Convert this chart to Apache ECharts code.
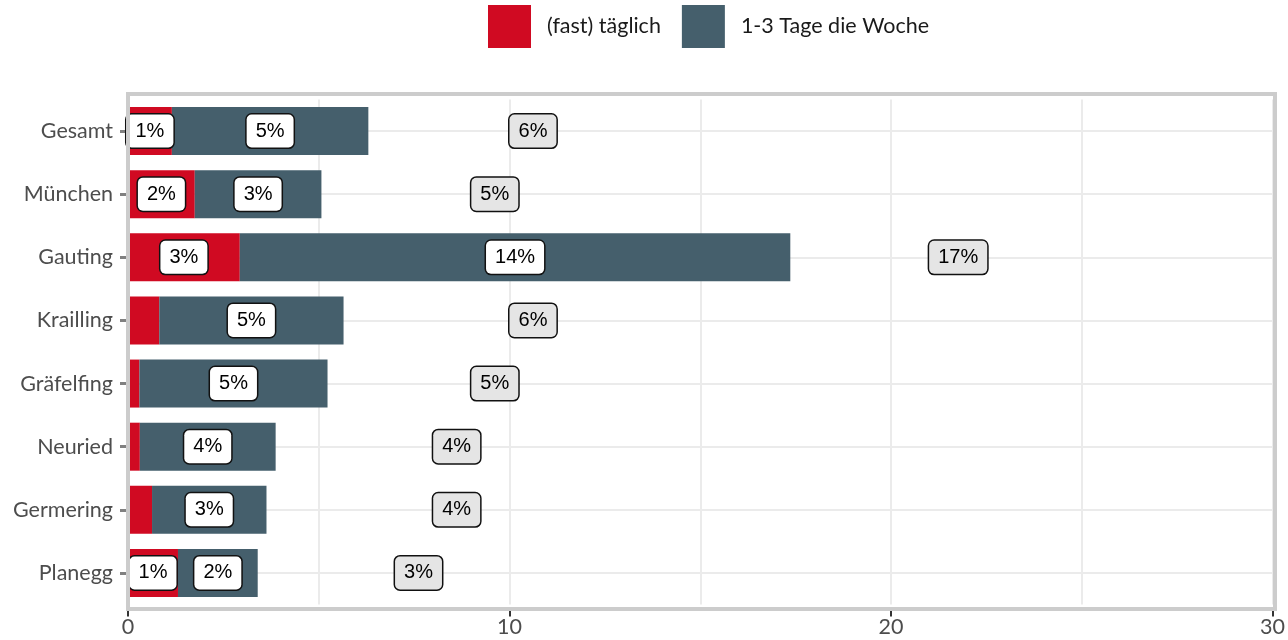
<!DOCTYPE html>
<html><head><meta charset="utf-8">
<script src="https://cdn.jsdelivr.net/npm/echarts@6/dist/echarts.min.js"></script>
<style>html,body{margin:0;padding:0;background:#fff}#c{width:1288px;height:640px}</style>
</head><body><div id="c"></div>
<script>
const categories = ['Gesamt','München','Gauting','Krailling','Gräfelfing','Neuried','Germering','Planegg'];
const seriesNames = ['(fast) täglich','1-3 Tage die Woche'];
const daily  = [1.15, 1.75, 2.93, 0.82, 0.30, 0.31, 0.63, 1.31];
const weekly = [5.15, 3.32, 14.43, 4.83, 4.93, 3.56, 3.00, 2.09];
const xTickValues = [0, 10, 20, 30];
const totalLabelOffset = 4;

const RED = '#d00a22', BLUE = '#455f6c';
const boxLabel = {
  color: '#000', opacity: 1, fontFamily: 'Liberation Sans, Arial, sans-serif', fontSize: 20,
  backgroundColor: '#ffffff', borderColor: '#111', borderWidth: 1.5, borderRadius: 5,
  padding: [7, 9, 6, 9]
};
const totals = daily.map((d, i) => d + weekly[i]);

const chart = echarts.init(document.getElementById('c'), null, {renderer: 'canvas'});
chart.setOption({
  animation: false,
  backgroundColor: '#ffffff',
  legend: {
    top: 0, left: 483, itemWidth: 43, itemHeight: 43, itemGap: 21,
    icon: 'rect',
    textStyle: {fontFamily: 'Lato, sans-serif', fontSize: 21.5, color: '#1a1a1a', padding: [0, 0, 0, 11]},
    data: seriesNames
  },
  grid: {left: 128, right: 13, top: 99.5, bottom: 35.5, containLabel: false},
  xAxis: {
    type: 'value', min: xTickValues[0], max: xTickValues[xTickValues.length - 1],
    interval: xTickValues[1] - xTickValues[0], offset: 4,
    axisLine: {show: false},
    axisTick: {show: true, length: 8, lineStyle: {color: '#333', width: 2}},
    axisLabel: {fontFamily: 'Lato, sans-serif', fontSize: 21.5, color: '#4d4d4d', margin: 8},
    splitLine: {show: true, lineStyle: {color: '#ebebeb', width: 2}},
    minorTick: {show: false, splitNumber: 2},
    minorSplitLine: {show: true, lineStyle: {color: '#ebebeb', width: 2}}
  },
  yAxis: {
    type: 'category', data: categories, inverse: true,
    axisLine: {show: false},
    axisTick: {show: true, alignWithLabel: true, length: 8, lineStyle: {color: '#808080', width: 3}},
    axisLabel: {fontFamily: 'Lato, sans-serif', fontSize: 21.5, color: '#4d4d4d', margin: 15},
    splitLine: {show: true, alignWithLabel: true, lineStyle: {color: '#ebebeb', width: 2}}
  },
  series: [
    {
      name: seriesNames[0], type: 'bar', stack: 'a', barWidth: 48, itemStyle: {color: RED},
      data: daily.map(v => ({value: v, label: {show: v >= 1}})),
      label: Object.assign({position: 'inside', formatter: p => Math.round(p.value) + '%'}, boxLabel)
    },
    {
      name: seriesNames[1], type: 'bar', stack: 'a', barWidth: 48, itemStyle: {color: BLUE},
      data: weekly,
      label: Object.assign({show: true, position: 'inside', formatter: p => Math.round(p.value) + '%'}, boxLabel)
    },
    {
      name: 'total', type: 'scatter', symbolSize: 0, silent: true,
      itemStyle: {opacity: 1, color: '#000'},
      data: totals.map((t, i) => [Math.round(t) + totalLabelOffset, categories[i], Math.round(t)]),
      label: Object.assign({show: true, position: 'right', distance: 0, formatter: p => p.value[2] + '%'},
        boxLabel, {backgroundColor: '#e5e5e5'})
    }
  ],
  graphic: [{
    type: 'rect', z: 100, silent: true,
    shape: {x: 128, y: 94, width: 1147, height: 515},
    style: {fill: 'none', stroke: '#cccccc', lineWidth: 4}
  }]
});
</script></body></html>
